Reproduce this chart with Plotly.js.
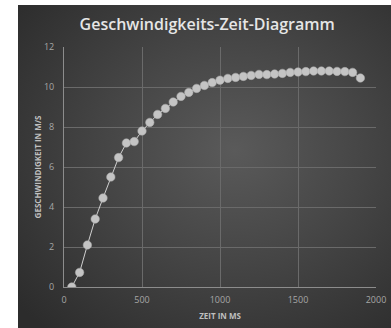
<!DOCTYPE html>
<html>
<head>
<meta charset="utf-8">
<script src="https://cdn.plot.ly/plotly-3.0.1.min.js"></script>
<style>
  html, body { margin: 0; padding: 0; background: #ffffff; width: 391px; height: 328px; overflow: hidden; }
  #bg { position: absolute; left: 18px; top: 5px; width: 373px; height: 323px;
        background: radial-gradient(ellipse 75% 75% at 58% 45%, #5a5a5a 0%, #464646 45%, #2c2c2c 100%); }
  #chart { position: absolute; left: 0; top: 0; width: 391px; height: 328px; }
</style>
</head>
<body>
<div id="bg"></div>
<div id="chart"></div>
<script>
const timeMs = [50, 100, 150, 200, 250, 300, 350, 400, 450, 500, 550, 600, 650, 700, 750, 800, 850, 900, 950, 1000,
                1050, 1100, 1150, 1200, 1250, 1300, 1350, 1400, 1450, 1500, 1550, 1600, 1650, 1700, 1750, 1800, 1850, 1900];
const speedMs = [0.0, 0.73, 2.1, 3.4, 4.45, 5.5, 6.47, 7.2, 7.27, 7.8, 8.23, 8.63, 8.93, 9.25, 9.53, 9.73, 9.93, 10.08, 10.22, 10.34,
                 10.43, 10.48, 10.53, 10.58, 10.63, 10.62, 10.65, 10.68, 10.73, 10.75, 10.77, 10.8, 10.8, 10.8, 10.78, 10.77, 10.73, 10.45];
const xTicks = [0, 500, 1000, 1500, 2000];
const yTicks = [0, 2, 4, 6, 8, 10, 12];
const chartTitle = "Geschwindigkeits-Zeit-Diagramm";
const xTitle = "ZEIT IN MS";
const yTitle = "GESCHWINDIGKEIT IN M/S";

const traces = [{
  x: timeMs, y: speedMs, type: "scatter", mode: "lines+markers",
  line: { color: "#d0d0d0", width: 1 },
  marker: { color: "#c4c4c4", size: 8.5, line: { color: "#a8a8a8", width: 0.5 } },
  hoverinfo: "skip"
}];

const layout = {
  width: 391, height: 328,
  margin: { l: 64, r: 15, t: 47, b: 41, pad: 0 },
  paper_bgcolor: "rgba(0,0,0,0)",
  plot_bgcolor: "rgba(0,0,0,0)",
  showlegend: false,
  title: { text: chartTitle, x: 0.53, xanchor: "center", y: 0.925, yanchor: "middle",
           font: { family: "Open Sans, sans-serif", size: 16, color: "#e6e6e6", weight: 600 } },
  xaxis: {
    range: [0, 2000], tickvals: xTicks, ticktext: xTicks.map(String),
    showgrid: true, gridcolor: "#6a6a6a", gridwidth: 1,
    showline: true, linecolor: "#8c8c8c", linewidth: 1,
    zeroline: false, ticks: "outside", ticklen: 4, tickcolor: "rgba(0,0,0,0)",
    tickfont: { family: "Open Sans, sans-serif", size: 9, color: "#a6a6a6" },
    title: { text: xTitle, standoff: 8, font: { family: "Open Sans, sans-serif", size: 8, color: "#bfbfbf", weight: 700 } }
  },
  yaxis: {
    range: [0, 12], tickvals: yTicks, ticktext: yTicks.map(String),
    showgrid: true, gridcolor: "#6a6a6a", gridwidth: 1,
    showline: true, linecolor: "#8c8c8c", linewidth: 1,
    zeroline: false, ticks: "outside", ticklen: 7, tickcolor: "rgba(0,0,0,0)",
    tickfont: { family: "Open Sans, sans-serif", size: 9, color: "#a6a6a6" },
    title: { text: yTitle, standoff: 1, font: { family: "Open Sans, sans-serif", size: 8, color: "#bfbfbf", weight: 700 } }
  }
};

Plotly.newPlot("chart", traces, layout, { displayModeBar: false, staticPlot: true });
</script>
</body>
</html>
